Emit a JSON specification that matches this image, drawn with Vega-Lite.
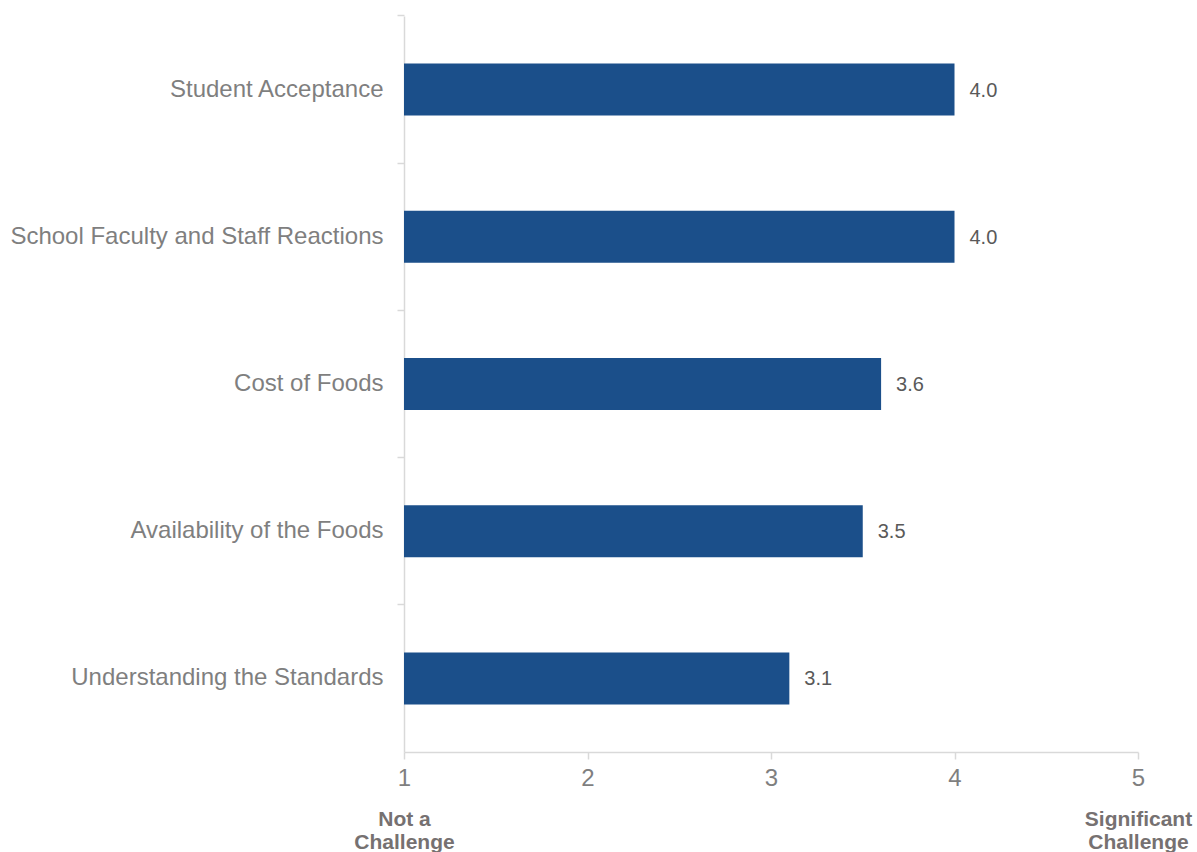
{
  "$schema": "https://vega.github.io/schema/vega-lite/v6.json",
  "width": 734,
  "height": 736,
  "autosize": {"type": "none"},
  "padding": {"left": 404, "top": 16, "right": 59, "bottom": 100},
  "background": "white",
  "data": {
    "values": [
      {"category": "Student Acceptance", "value": 4.0},
      {"category": "School Faculty and Staff Reactions", "value": 4.0},
      {"category": "Cost of Foods", "value": 3.6},
      {"category": "Availability of the Foods", "value": 3.5},
      {"category": "Understanding the Standards", "value": 3.1}
    ]
  },
  "encoding": {
    "y": {
      "field": "category",
      "type": "nominal",
      "sort": null,
      "scale": {"paddingInner": 0.647, "paddingOuter": 0.3235},
      "axis": {
        "title": null,
        "grid": false,
        "domainColor": "#d9d9d9",
        "domainWidth": 1.5,
        "tickColor": "#d9d9d9",
        "tickWidth": 1.5,
        "tickSize": 7,
        "bandPosition": -0.9165,
        "labelFontSize": 24,
        "labelColor": "#7f7f7f",
        "labelPadding": 14,
        "labelLimit": 0
      }
    }
  },
  "layer": [
    {
      "mark": {"type": "bar", "color": "#1B4F8A"},
      "encoding": {
        "x": {
          "field": "value",
          "type": "quantitative",
          "scale": {"domain": [1, 5], "nice": false, "zero": false},
          "axis": {
            "title": null,
            "grid": false,
            "values": [1, 2, 3, 4, 5],
            "format": "d",
            "domainColor": "#d9d9d9",
            "domainWidth": 1.5,
            "tickColor": "#d9d9d9",
            "tickWidth": 1.5,
            "tickSize": 7,
            "labelFontSize": 24,
            "labelColor": "#7f7f7f",
            "labelPadding": 7,
            "labelFlush": false
          }
        },
        "x2": {"datum": 1}
      }
    },
    {
      "mark": {"type": "text", "align": "left", "baseline": "middle", "dx": 15, "dy": 1, "fontSize": 20, "color": "#595959"},
      "encoding": {
        "x": {
          "field": "value",
          "type": "quantitative",
          "axis": {
            "orient": "bottom",
            "title": null,
            "grid": false,
            "domain": false,
            "ticks": false,
            "values": [1, 5],
            "labelExpr": "datum.value == 1 ? ['Not a', 'Challenge'] : ['Significant', 'Challenge']",
            "labelFontSize": 21,
            "labelFontWeight": "bold",
            "labelLineHeight": 23,
            "labelColor": "#767171",
            "labelPadding": 56,
            "labelFlush": false,
            "labelOverlap": false,
            "labelBound": false
          }
        },
        "text": {"field": "value", "type": "quantitative", "format": ".1f"}
      }
    }
  ],
  "resolve": {"axis": {"x": "independent"}},
  "config": {
    "view": {"stroke": null},
    "font": "Liberation Sans"
  }
}
